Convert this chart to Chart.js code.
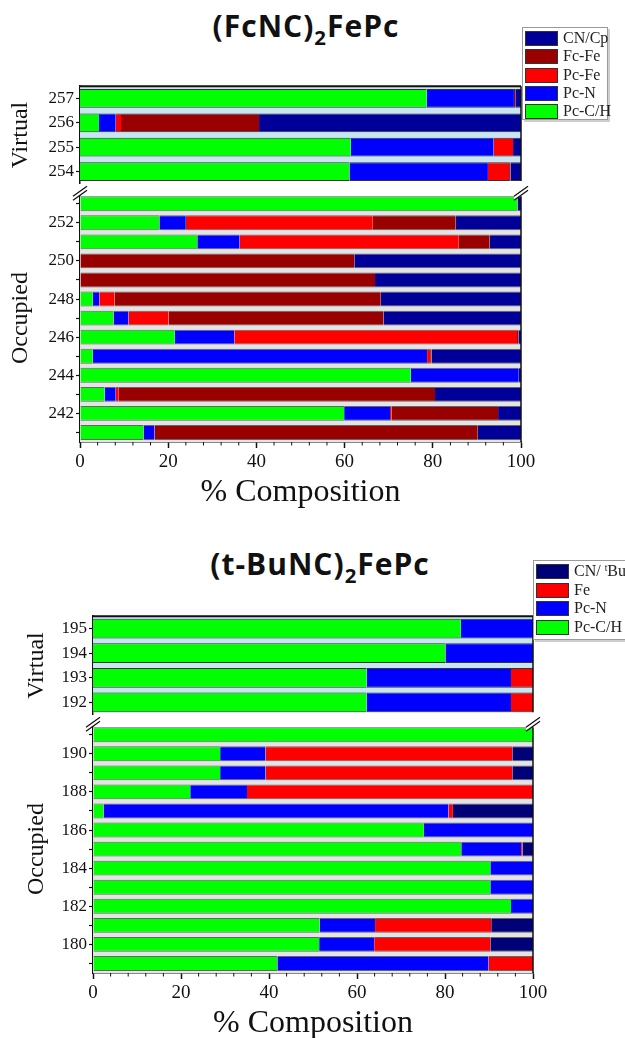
<!DOCTYPE html>
<html>
<head>
<meta charset="utf-8">
<script src="https://cdn.jsdelivr.net/npm/chart.js@4.4.0/dist/chart.umd.min.js"></script>
<style>
  html, body { margin: 0; padding: 0; background: #fff; overflow: hidden; }
  #page { position: relative; width: 625px; height: 1038px; }
  .cv { position: absolute; left: 0; }
  .ttl { position: absolute; font-family: 'Open Sans', sans-serif; font-weight: 700; font-size: 30px;
         letter-spacing: 1px; line-height: 30px; white-space: nowrap; transform: translateX(-50%); color: #111; }
  .ttl sub { font-size: 0.68em; vertical-align: -0.38em; line-height: 0; }
  .lg { position: absolute; background: #fff; border: 1px solid #9a9a9a; box-shadow: 2px 2px 0 #cfcfcf;
        font-family: 'Liberation Serif', serif; font-size: 16px; color: #222; }
  .lg .row { position: absolute; left: 2px; height: 15px; }
  .lg .sw { position: absolute; left: 0; top: 0; width: 33px; height: 15px; border: 1px solid #333; box-sizing: border-box; }
  .lg .tx { position: absolute; left: 38px; top: -2px; line-height: 18px; white-space: nowrap; }
  .lg sup { font-size: 0.6em; vertical-align: 0.55em; line-height: 0; }
</style>
</head>
<body>
<div id="page">
  <div class="ttl" style="left:306px; top:11px;">(FcNC)<sub>2</sub>FePc</div>
  <div class="ttl" style="left:320px; top:549px;">(t-BuNC)<sub>2</sub>FePc</div>
</div>
<script>
    // (FcNC)2FePc - lignes du haut vers le bas
    var fcRowsVirtual = ['257', '256', '255', '254'];
    var fcRowsOccupied = ['253', '252', '251', '250', '249', '248', '247', '246', '245', '244', '243', '242', '241'];
    var fcSeries = ['Pc-C/H', 'Pc-N', 'Pc-Fe', 'Fc-Fe', 'CN/Cp'];
    var fcColors = ['#00ff00', '#0000ff', '#ff0000', '#990000', '#000099'];
    // % par ligne : 257..254 puis 253..241
    var fcPcCH = [78.6, 4.3, 61.4, 61.1, 99.2, 18.0, 26.6, 0, 0, 2.9, 7.6, 21.5, 2.9, 75.0, 5.6, 59.9, 14.4];
    var fcPcN  = [19.8, 3.8, 32.4, 31.4, 0, 6.0, 9.6, 0, 0, 1.5, 3.4, 13.5, 75.8, 24.5, 2.5, 10.4, 2.5];
    var fcPcFe = [0, 1.2, 4.4, 4.8, 0, 42.4, 49.7, 0, 0, 3.4, 9.1, 64.1, 0.7, 0, 0.7, 0.3, 0];
    var fcFcFe = [0.3, 31.3, 0, 0.3, 0, 18.8, 7.0, 62.2, 66.9, 60.4, 48.7, 0.3, 0.3, 0, 71.7, 24.2, 73.3];
    var fcCNCp = [1.3, 59.4, 1.8, 2.4, 0.8, 14.8, 7.1, 37.8, 33.1, 31.8, 31.2, 0.6, 20.3, 0.5, 19.5, 5.2, 9.8];

    // (t-BuNC)2FePc
    var tbRowsVirtual = ['195', '194', '193', '192'];
    var tbRowsOccupied = ['191', '190', '189', '188', '187', '186', '185', '184', '183', '182', '181', '180', '179'];
    var tbSeries = ['Pc-C/H', 'Pc-N', 'Fe', 'CN/tBu'];
    var tbColors = ['#00ff00', '#0000ff', '#ff0000', '#000077'];
    var tbPcCH = [83.6, 80.1, 62.2, 62.2, 100, 28.9, 28.9, 22.1, 2.4, 75.2, 83.7, 90.3, 90.3, 95.0, 51.5, 51.4, 41.9];
    var tbPcN  = [16.4, 19.9, 32.8, 32.8, 0, 10.3, 10.3, 12.9, 78.4, 24.8, 13.6, 9.7, 9.7, 5.0, 12.6, 12.5, 48.0];
    var tbFe   = [0, 0, 5.0, 5.0, 0, 56.1, 56.1, 64.8, 1.0, 0, 0.3, 0, 0, 0, 26.4, 26.4, 10.1];
    var tbCNtBu = [0, 0, 0, 0, 0, 4.7, 4.7, 0.2, 18.2, 0, 2.4, 0, 0, 0, 9.5, 9.7, 0];

    var xTicksMajor = [0, 20, 40, 60, 80, 100];

    Chart.defaults.font.family = "'Liberation Serif', serif";
    Chart.defaults.color = '#111';

    var page = document.getElementById('page');

    // fond entre les barres + cadre + marques de coupure
    var sectionDeco = {
        id: 'sectionDeco',
        beforeDatasetsDraw: function (chart, args, o) {
            var a = chart.chartArea, ctx = chart.ctx;
            var n = chart.data.labels.length;
            var half = (a.bottom - a.top) / n * (1 - o.catPct) / 2;
            var t = a.top + (o.trimTop ? half : 0);
            var b = a.bottom - (o.trimBottom ? half : 0);
            ctx.save();
            ctx.fillStyle = o.bg;
            ctx.fillRect(a.left, t, a.right - a.left, b - t);
            ctx.restore();
        },
        afterDraw: function (chart, args, o) {
            var a = chart.chartArea, ctx = chart.ctx;
            var n = chart.data.labels.length;
            var half = (a.bottom - a.top) / n * (1 - o.catPct) / 2;
            ctx.save();
            ctx.strokeStyle = '#111';
            if (o.topLine) {
                ctx.lineWidth = 2;
                ctx.beginPath(); ctx.moveTo(a.left, a.top); ctx.lineTo(a.right, a.top); ctx.stroke();
            }
            // bord droit
            ctx.lineWidth = 1.5;
            ctx.beginPath();
            ctx.moveTo(a.right, a.top + (o.trimTop ? half : 0));
            ctx.lineTo(a.right, a.bottom - (o.trimBottom ? half : 0));
            ctx.stroke();
            // petites graduations de l'axe x
            if (o.minor) {
                var x = chart.scales.x;
                ctx.lineWidth = 1;
                for (var v = 0; v <= 100; v += 4) {
                    if (xTicksMajor.indexOf(v) >= 0) continue;
                    var px = x.getPixelForValue(v);
                    ctx.beginPath(); ctx.moveTo(px, a.bottom); ctx.lineTo(px, a.bottom + 3.5); ctx.stroke();
                }
            }
            // coupure //
            if (o.breakMarks) {
                var cy = a.top - 1;
                [a.left, a.right].forEach(function (cx) {
                    ctx.fillStyle = '#fff';
                    ctx.beginPath();
                    ctx.moveTo(cx - 7, cy + 3); ctx.lineTo(cx + 7, cy - 7);
                    ctx.lineTo(cx + 7, cy - 3); ctx.lineTo(cx - 7, cy + 7);
                    ctx.closePath(); ctx.fill();
                    ctx.lineWidth = 1.3;
                    ctx.beginPath(); ctx.moveTo(cx - 7, cy + 3); ctx.lineTo(cx + 7, cy - 7); ctx.stroke();
                    ctx.beginPath(); ctx.moveTo(cx - 7, cy + 7); ctx.lineTo(cx + 7, cy - 3); ctx.stroke();
                });
            }
            ctx.restore();
        }
    };

    function makeSection(cfg) {
        var cv = document.createElement('canvas');
        cv.className = 'cv';
        cv.width = cfg.width; cv.height = cfg.height;
        cv.style.top = cfg.top + 'px';
        cv.style.width = cfg.width + 'px'; cv.style.height = cfg.height + 'px';
        page.appendChild(cv);

        var datasets = cfg.series.map(function (name, i) {
            return {
                label: name,
                data: cfg.values[i].slice(cfg.from, cfg.to),
                backgroundColor: cfg.colors[i],
                borderColor: cfg.edge,
                borderWidth: { top: 1, bottom: 1, left: 0, right: 0 },
                borderSkipped: false,
                barPercentage: 1,
                categoryPercentage: cfg.catPct
            };
        });

        return new Chart(cv, {
            type: 'bar',
            data: { labels: cfg.labels, datasets: datasets },
            plugins: [sectionDeco],
            options: {
                indexAxis: 'y',
                responsive: false,
                animation: false,
                devicePixelRatio: 1,
                layout: { padding: { left: 0, right: 25, top: 10, bottom: cfg.padBottom } },
                plugins: {
                    legend: { display: false },
                    tooltip: { enabled: false },
                    sectionDeco: {
                        bg: cfg.bg, catPct: cfg.catPct, trimTop: cfg.trimTop, trimBottom: cfg.trimBottom,
                        topLine: cfg.topLine, minor: cfg.showX, breakMarks: cfg.breakMarks
                    }
                },
                scales: {
                    x: {
                        type: 'linear', min: 0, max: 100, stacked: true,
                        display: cfg.showX,
                        afterFit: function (s) { if (cfg.showX) s.height = 70; },
                        ticks: {
                            stepSize: 4, autoSkip: false, maxRotation: 0, padding: 3,
                            font: { size: 19 }, color: '#111',
                            callback: function (v) { return xTicksMajor.indexOf(v) >= 0 ? String(v) : ''; }
                        },
                        grid: {
                            drawOnChartArea: false, drawTicks: true, tickLength: 6, tickWidth: 1.5,
                            tickColor: function (c) { return xTicksMajor.indexOf(c.tick.value) >= 0 ? '#111' : 'rgba(0,0,0,0)'; }
                        },
                        border: { display: true, color: '#111', width: 1.5 },
                        title: { display: true, text: '% Composition', font: { size: 32 }, color: '#111', padding: { top: 0, bottom: 0 } }
                    },
                    y: {
                        type: 'category', stacked: true,
                        afterFit: function (s) { s.width = cfg.yWidth; },
                        ticks: {
                            autoSkip: false, padding: 2, font: { size: 17 }, color: '#111',
                            callback: function (v) {
                                var lab = this.getLabelForValue(v);
                                return (cfg.allLabels || parseInt(lab, 10) % 2 === 0) ? lab : '';
                            }
                        },
                        grid: { drawOnChartArea: false, offset: false, drawTicks: true, tickLength: 4, tickWidth: 1.2, tickColor: '#111' },
                        border: { display: true, color: '#111', width: 1.5 },
                        title: { display: true, text: cfg.section, font: { size: 24 }, color: '#111', padding: { top: cfg.titlePad, bottom: 0 } }
                    }
                }
            }
        });
    }

    var fcValues = [fcPcCH, fcPcN, fcPcFe, fcFcFe, fcCNCp];
    var tbValues = [tbPcCH, tbPcN, tbFe, tbCNtBu];

    // panneau du haut
    makeSection({ top: 74, height: 122, width: 546, yWidth: 80, padBottom: 5, labels: fcRowsVirtual,
        series: fcSeries, colors: fcColors, values: fcValues, from: 0, to: 4, catPct: 0.77,
        edge: '#333', bg: '#c8e6f2', trimTop: false, trimBottom: true, topLine: true,
        showX: false, breakMarks: false, section: 'Virtual', allLabels: true, titlePad: 6 });
    makeSection({ top: 182, height: 334, width: 546, yWidth: 80, padBottom: 4, labels: fcRowsOccupied,
        series: fcSeries, colors: fcColors, values: fcValues, from: 4, to: 17, catPct: 0.78,
        edge: '#666', bg: '#e4e4e4', trimTop: true, trimBottom: false, topLine: false,
        showX: true, breakMarks: true, section: 'Occupied', allLabels: false, titlePad: 6 });

    // panneau du bas
    makeSection({ top: 604, height: 123, width: 558, yWidth: 93, padBottom: 5, labels: tbRowsVirtual,
        series: tbSeries, colors: tbColors, values: tbValues, from: 0, to: 4, catPct: 0.8,
        edge: '#333', bg: '#c8e6f2', trimTop: false, trimBottom: true, topLine: true,
        showX: false, breakMarks: false, section: 'Virtual', allLabels: true, titlePad: 22 });
    makeSection({ top: 713, height: 330, width: 558, yWidth: 93, padBottom: 0, labels: tbRowsOccupied,
        series: tbSeries, colors: tbColors, values: tbValues, from: 4, to: 17, catPct: 0.78,
        edge: '#666', bg: '#e4e4e4', trimTop: true, trimBottom: false, topLine: false,
        showX: true, breakMarks: true, section: 'Occupied', allLabels: false, titlePad: 22 });

    // légendes (ordre inversé, comme l'original)
    function makeLegend(left, top, width, height, names, colors, pitch) {
        var box = document.createElement('div');
        box.className = 'lg';
        box.style.left = left + 'px'; box.style.top = top + 'px';
        box.style.width = width + 'px'; box.style.height = height + 'px';
        for (var i = names.length - 1, k = 0; i >= 0; i--, k++) {
            var row = document.createElement('div');
            row.className = 'row';
            row.style.top = (3 + k * pitch) + 'px';
            row.innerHTML = '<div class="sw" style="background:' + colors[i] + '"></div><div class="tx">' + names[i] + '</div>';
            box.appendChild(row);
        }
        page.appendChild(box);
    }
    makeLegend(522, 27, 84, 91, fcSeries, fcColors, 18.3);
    makeLegend(533, 560, 100, 78, ['Pc-C/H', 'Pc-N', 'Fe', 'CN/ <sup>t</sup>Bu'], tbColors, 18.5);
</script>
</body>
</html>
